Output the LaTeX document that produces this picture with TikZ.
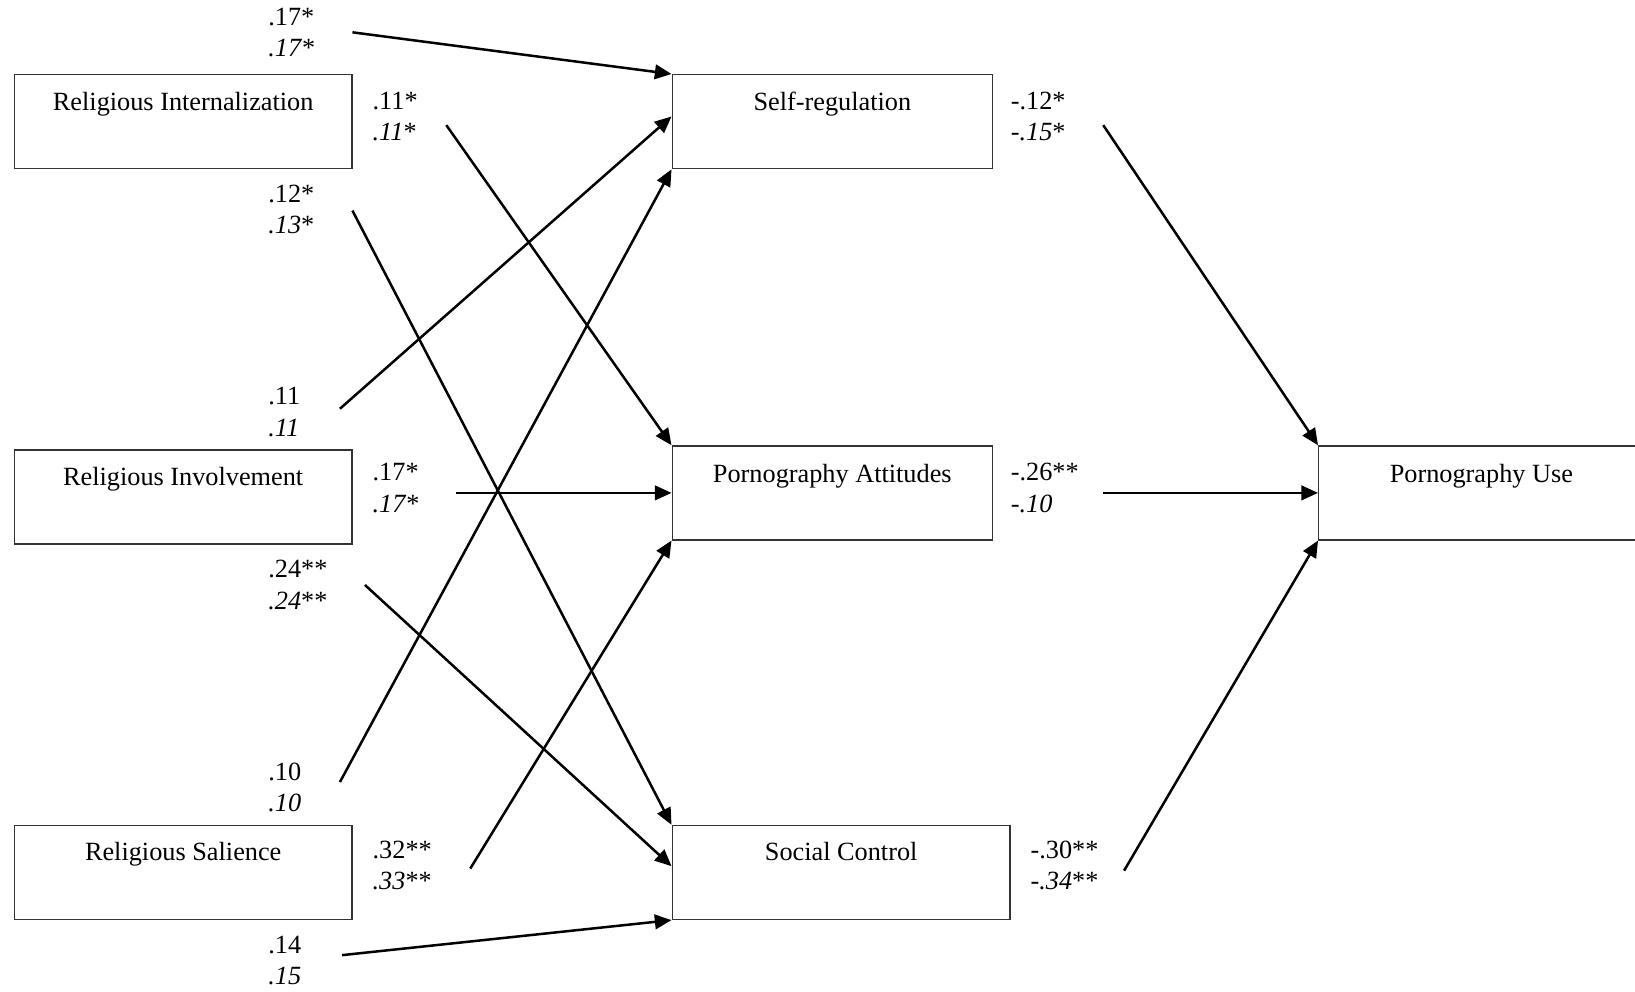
\documentclass[tikz,border=0pt]{standalone}
\usepackage{fontspec}
\setmainfont{Liberation Serif}
\usetikzlibrary{arrows.meta,calc}
\begin{document}
\begin{tikzpicture}[x=0.5pt,y=-0.5pt,
  every node/.style={font=\fontsize{12.6}{15}\selectfont},
  vbox/.style={draw=black!80, line width=0.7pt, inner sep=0pt, anchor=north west,
    text height=17pt, text depth=28pt},
  coef/.style={anchor=west, align=left, inner sep=0pt},
  path/.style={draw=black, line width=1.2pt, -{Triangle[length=8pt,width=7pt]}}
]
\useasboundingbox (0,0) rectangle (1568,951);
% boxes
\node[vbox, minimum width=162pt] (RI) at (13,71) {Religious Internalization};
\node[vbox, minimum width=162pt] (RV) at (13,431) {Religious Involvement};
\node[vbox, minimum width=162pt] (RS) at (13,791) {Religious Salience};
\node[vbox, minimum width=153.5pt] (SR) at (644,71) {Self-regulation};
\node[vbox, minimum width=153.5pt, text height=17.5pt, text depth=27.5pt] (PA) at (644,427) {Pornography Attitudes};
\node[vbox, minimum width=162pt] (SC) at (644,791) {Social Control};
\node[vbox, minimum width=156pt, text height=17.5pt, text depth=27.5pt] (PU) at (1264,427) {Pornography Use};
% coefficient labels
\node[coef] (l1) at (257,31) {.17*\\\textit{.17}*};
\node[coef] (l2) at (357,112) {.11*\\\textit{.11}*};
\node[coef] (l3) at (257,201) {.12*\\\textit{.13}*};
\node[coef] (l4) at (257,395) {.11\\\textit{.11}};
\node[coef] (l5) at (357,468) {.17*\\\textit{.17}*};
\node[coef] (l6) at (257,561) {.24**\\\textit{.24}**};
\node[coef] (l7) at (257,755) {.10\\\textit{.10}};
\node[coef] (l8) at (357,830) {.32**\\\textit{.33}**};
\node[coef] (l9) at (257,921) {.14\\\textit{.15}};
\node[coef] (m1) at (969,112) {-.12*\\-\textit{.15}*};
\node[coef] (m2) at (969,468) {-.26**\\-\textit{.10}};
\node[coef] (m3) at (988,830) {-.30**\\-\textit{.34}**};
% free ends
\coordinate (s1) at (338,31);
\coordinate (s2) at (428,120);
\coordinate (s3) at (338,202);
\coordinate (s4) at (326,392);
\coordinate (s5) at ($(PA.west)+(-207,0)$);
\coordinate (s6) at (350,561);
\coordinate (s7) at (326,750);
\coordinate (s8) at (451,833);
\coordinate (s9) at (328,916);
\coordinate (t1) at (1058,120);
\coordinate (t2) at ($(PU.west)+(-206,0)$);
\coordinate (t3) at (1078,835);
% paths
\draw[path] (s1) -- (SR.north west);
\draw[path] (s2) -- (PA.north west);
\draw[path] (s3) -- (SC.north west);
\draw[path] (s4) -- ($(SR.west)+(0,-5)$);
\draw[path] (s5) -- (PA.west);
\draw[path] (s6) -- ($(SC.west)+(0,-6)$);
\draw[path] (s7) -- (SR.south west);
\draw[path] (s8) -- (PA.south west);
\draw[path] (s9) -- (SC.south west);
\draw[path] (t1) -- (PU.north west);
\draw[path] (t2) -- (PU.west);
\draw[path] (t3) -- (PU.south west);
\end{tikzpicture}
\end{document}
